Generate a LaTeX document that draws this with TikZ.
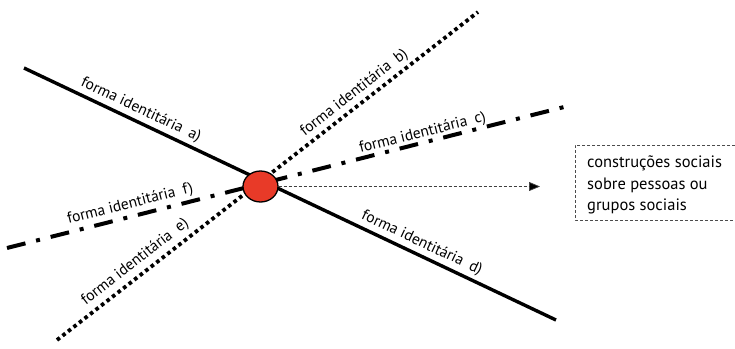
\documentclass[tikz,border=0pt]{standalone}
\usepackage{fontspec}
\setmainfont{PT Sans}
\usetikzlibrary{arrows.meta,shapes.geometric}
\definecolor{hubred}{RGB}{232,58,40}
\begin{document}
\begin{tikzpicture}[x=1pt,y=-1pt,
  solidline/.style={line width=3.4pt},
  dotline/.style={line width=3.8pt, dash pattern=on 3.6pt off 3.4pt},
  dashdotline/.style={line width=4pt, dash pattern=on 19pt off 11pt on 4pt off 11pt},
  lbl/.style={font=\fontsize{15.5}{17}\selectfont, sloped, inner sep=1pt},
  hub/.style={ellipse, draw=black, line width=1.3pt, fill=hubred,
    minimum width=35pt, minimum height=31pt, inner sep=0pt},
  infobox/.style={font=\fontsize{16.5}{21.5}\selectfont, align=left, anchor=west, inner sep=0pt},
]
\useasboundingbox (0,0) rectangle (735,348);
\clip (0,0) rectangle (735,348);

% end points of the three axes
\coordinate (aEnd) at (24,68);
\coordinate (dEnd) at (556,320);
\coordinate (bEnd) at (478,12);
\coordinate (eEnd) at (57,340);
\coordinate (cEnd) at (568,106);
\coordinate (fEnd) at (7,248);

% axes with their labels
\draw[solidline] (aEnd) --
  node[lbl, pos=0.21, above=2pt] {forma identitária\enspace a)}
  node[lbl, pos=0.738, above=2pt] {forma identitária\enspace d)} (dEnd);
\draw[dotline] (eEnd) --
  node[lbl, pos=0.205, above=3pt] {forma identitária\enspace e)}
  node[lbl, pos=0.724, above=2pt] {forma identitária\enspace b)} (bEnd);
\draw[dashdotline] (fEnd) --
  node[lbl, pos=0.225, above=2pt] {forma identitária\enspace f)}
  node[lbl, pos=0.745, above=-1pt] {forma identitária\enspace c)} (cEnd);

% central point
\node[hub] (hub) at (260.5,186.5) {};

% text box and pointer
\node[infobox] (info) at (587,185)
  {construções sociais\\sobre pessoas ou\\grupos sociais};
\draw[densely dashed, line width=0.6pt, draw=black!70]
  (745,145) -| (575,220) -- (745,220);
\draw[densely dashed, line width=0.7pt, draw=black!75,
  -{Triangle[length=11pt, width=9pt, fill=black]}]
  (hub.east) -- (540,186.5);
\end{tikzpicture}
\end{document}
